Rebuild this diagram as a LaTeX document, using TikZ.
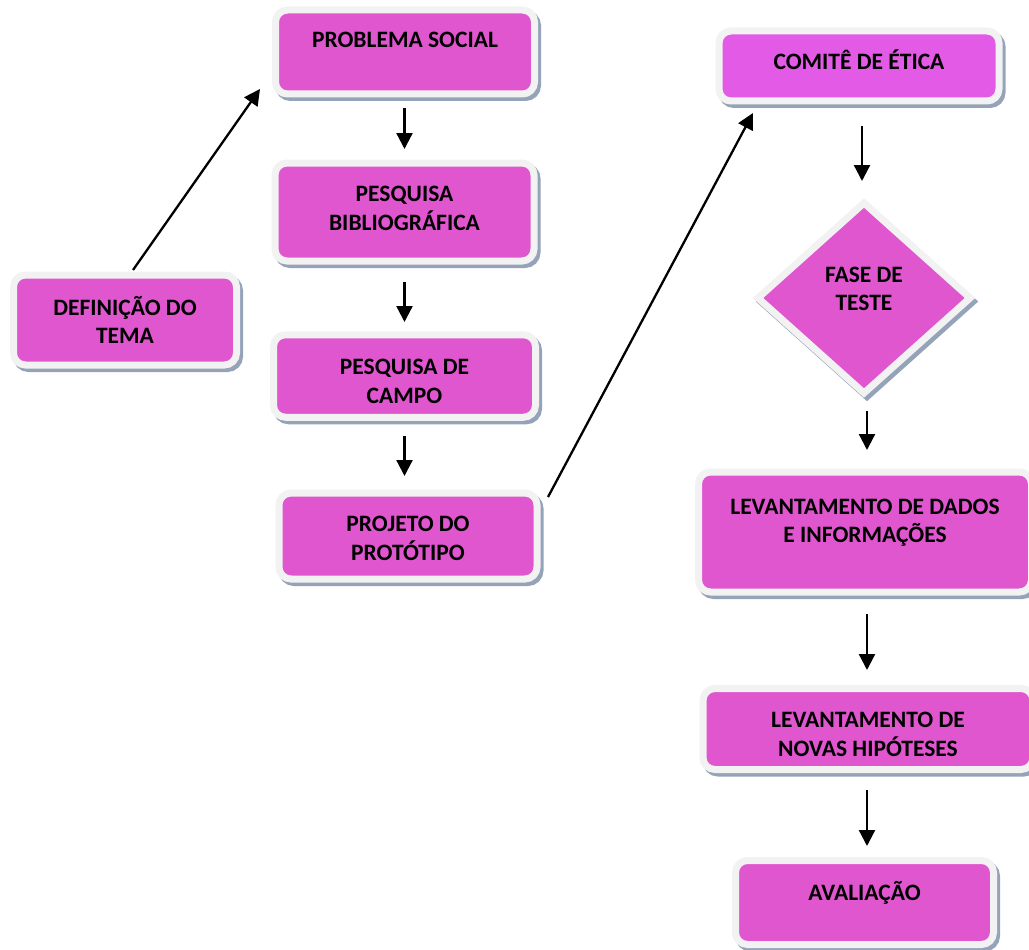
\documentclass[tikz,border=0pt]{standalone}
\usepackage{fontspec}
\setmainfont{Carlito}
\usepackage{tikz}
\usetikzlibrary{shapes,arrows.meta}
\usetikzlibrary{shapes.geometric,shadows}
\usepackage{color}
\definecolor{rosa}{HTML}{E056CF}
\definecolor{lilas}{HTML}{E35AE6}
\definecolor{moldura}{HTML}{F2F2F2}
\definecolor{sombra}{HTML}{95A3B9}
\tikzset{
  etapa/.style={
    draw=moldura,line width=7pt,fill=rosa,rounded corners=12pt,
    align=center,font=\bfseries\fontsize{23.5}{28.5}\selectfont,
    inner sep=0pt,outer sep=0pt,
    drop shadow={shadow xshift=3pt,shadow yshift=-3.5pt,fill=sombra,draw=sombra,line width=7pt,opacity=1},
  },
  losango/.style={
    etapa,shape=diamond,rounded corners=0pt,
  },
  seta/.style={-{Triangle[width=16pt,length=16pt]},line width=2.3pt},
}

\begin{document}
\begin{tikzpicture}[x=1pt,y=-1pt]
    \useasboundingbox (0,0) rectangle (1029,950);

    \node[etapa,minimum width=259pt,minimum height=84pt,text height=0pt,text depth=8pt] (problema) at (405,52) {PROBLEMA SOCIAL};
    \node[etapa,minimum width=259pt,minimum height=98pt,text height=36pt,text depth=0pt] (bibliografica) at (404.5,212) {PESQUISA\\BIBLIOGRÁFICA};
    \node[etapa,minimum width=223pt,minimum height=90pt,text height=47pt,text depth=0pt] (tema) at (125,320) {DEFINIÇÃO DO\\TEMA};
    \node[etapa,minimum width=262pt,minimum height=82.5pt,text height=54pt,text depth=0pt] (campo) at (404.5,376) {PESQUISA DE\\CAMPO};
    \node[etapa,minimum width=258pt,minimum height=86pt,text height=48pt,text depth=0pt] (prototipo) at (408,536) {PROJETO DO\\PROTÓTIPO};

    \node[etapa,fill=lilas,minimum width=280pt,minimum height=70pt,text height=8pt,text depth=0pt] (etica) at (859,66) {COMITÊ DE ÉTICA};
    \node[losango,minimum width=212pt,minimum height=190pt,text height=25pt,text depth=0pt] (teste) at (864,298) {FASE DE\\TESTE};
    \node[etapa,minimum width=333pt,minimum height=120pt,text height=21pt,text depth=0pt] (dados) at (865,532) {LEVANTAMENTO DE DADOS\\E INFORMAÇÕES};
    \node[etapa,minimum width=330pt,minimum height=81pt,text height=54pt,text depth=0pt] (hipoteses) at (868,729) {LEVANTAMENTO DE\\NOVAS HIPÓTESES};
    \node[etapa,minimum width=258pt,minimum height=84pt,text height=0pt,text depth=5pt] (avaliacao) at (864.5,902.5) {AVALIAÇÃO};

    \draw[seta] ([xshift=8pt,yshift=5pt]tema.north) -- ([xshift=-15.5pt,yshift=5pt]problema.south west);
    \draw[seta,shorten <=14pt,shorten >=14pt] (problema.south -| bibliografica) -- (bibliografica.north);
    \draw[seta,shorten <=21pt,shorten >=12.75pt] (bibliografica.south) -- (campo.north);
    \draw[seta,shorten <=18.75pt,shorten >=17pt] (campo.south) -- (campo.south |- prototipo.north);
    \draw[seta] ([xshift=11pt,yshift=-4pt]prototipo.north east) -- ([xshift=34pt,yshift=-12pt]etica.south west);

    \draw[seta,shorten <=25pt,shorten >=22pt] ([xshift=-2pt]teste |- etica.south) -- ([xshift=-2pt]teste.north);
    \draw[seta,shorten <=18pt,shorten >=22pt] ([xshift=3pt]teste.south) -- ([xshift=3pt]teste.south |- dados.north);
    \draw[seta,shorten <=22pt,shorten >=18.5pt] ([xshift=2pt]dados.south) -- ([xshift=2pt]dados.south |- hipoteses.north);
    \draw[seta,shorten <=20.5pt,shorten >=14.5pt] ([xshift=2.5pt]avaliacao |- hipoteses.south) -- ([xshift=2.5pt]avaliacao.north);
\end{tikzpicture}
\end{document}
